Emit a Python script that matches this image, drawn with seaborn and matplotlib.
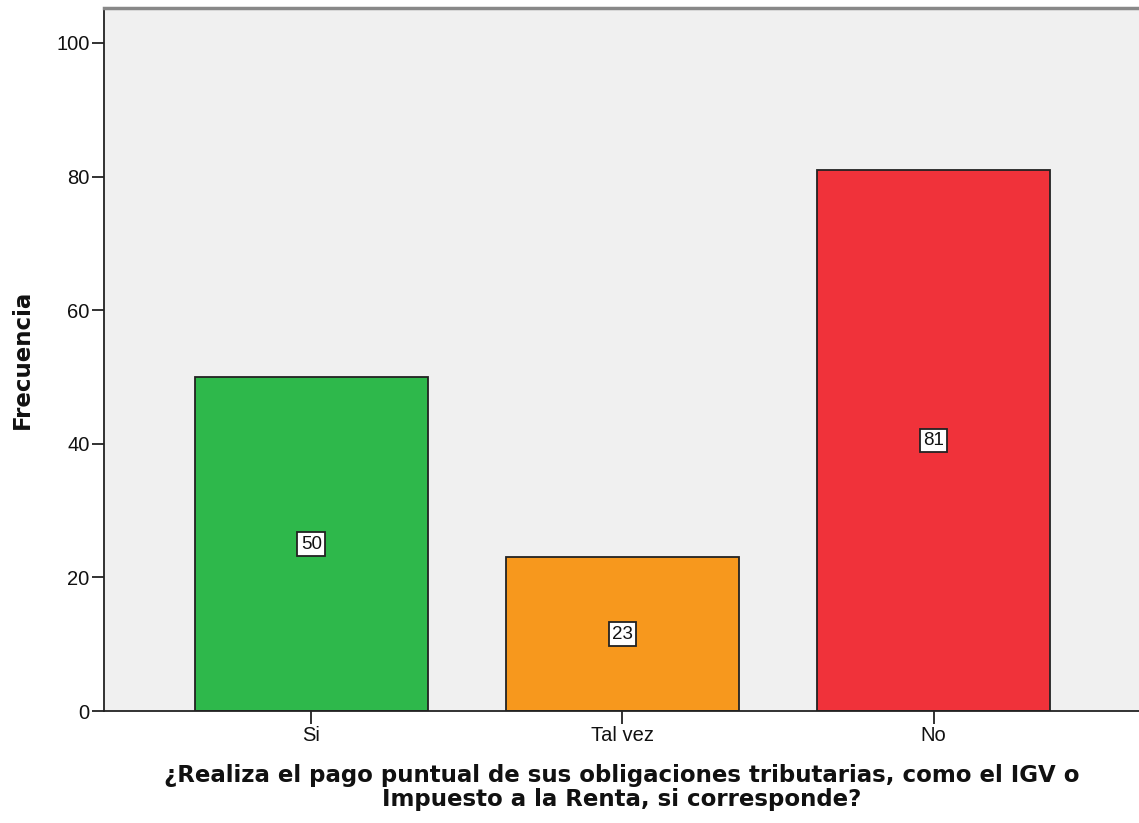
import matplotlib
matplotlib.use("Agg")
import pandas as pd
import seaborn as sns
import matplotlib.pyplot as plt

categorias = ["Si", "Tal vez", "No"]
frecuencias = [50, 23, 81]
colores = ["#2EB84B", "#F7981D", "#F0323A"]

sns.set_style("white")
plt.rcParams["font.family"] = ["Liberation Sans", "DejaVu Sans"]

df = pd.DataFrame({"respuesta": categorias, "frecuencia": frecuencias})

fig = plt.figure(figsize=(11.39, 8.23), dpi=100)
ax = fig.add_axes([0.0913, 0.136, 0.9087, 0.854])
ax.set_facecolor("#F0F0F0")

sns.barplot(data=df, x="respuesta", y="frecuencia", hue="respuesta",
            palette=colores, order=categorias, hue_order=categorias,
            width=0.75, saturation=1, edgecolor="#222222", linewidth=1.3,
            legend=False, ax=ax)

# etiquetas con el valor en el centro de cada barra
for i, v in enumerate(frecuencias):
    ax.text(i, v / 2, str(v), ha="center", va="center", fontsize=13.5,
            color="#111111",
            bbox=dict(boxstyle="square,pad=0.18", facecolor="white",
                      edgecolor="#222222", linewidth=1.3))

ax.set_xlim(-0.666, 2.66)
ax.set_ylim(0, 105.2)
ax.set_yticks([0, 20, 40, 60, 80, 100])
ax.tick_params(axis="both", direction="out", length=9, width=1.3,
               labelsize=14.5, color="#222222", labelcolor="#111111",
               pad=1.5, left=True, bottom=True)

for s in ["left", "bottom"]:
    ax.spines[s].set_linewidth(1.3)
    ax.spines[s].set_color("#222222")
ax.spines["top"].set_linewidth(2.5)
ax.spines["top"].set_color("#888888")
ax.spines["right"].set_visible(False)

ax.set_ylabel("Frecuencia", fontsize=16.5, fontweight="bold", labelpad=16,
              family="DejaVu Sans", color="#111111")
ax.set_xlabel("¿Realiza el pago puntual de sus obligaciones tributarias, como el IGV o\nImpuesto a la Renta, si corresponde?",
              fontsize=16.5, fontweight="bold", labelpad=14, linespacing=1.05,
              family="DejaVu Sans", color="#111111")

fig.savefig("out.png", dpi=100)
